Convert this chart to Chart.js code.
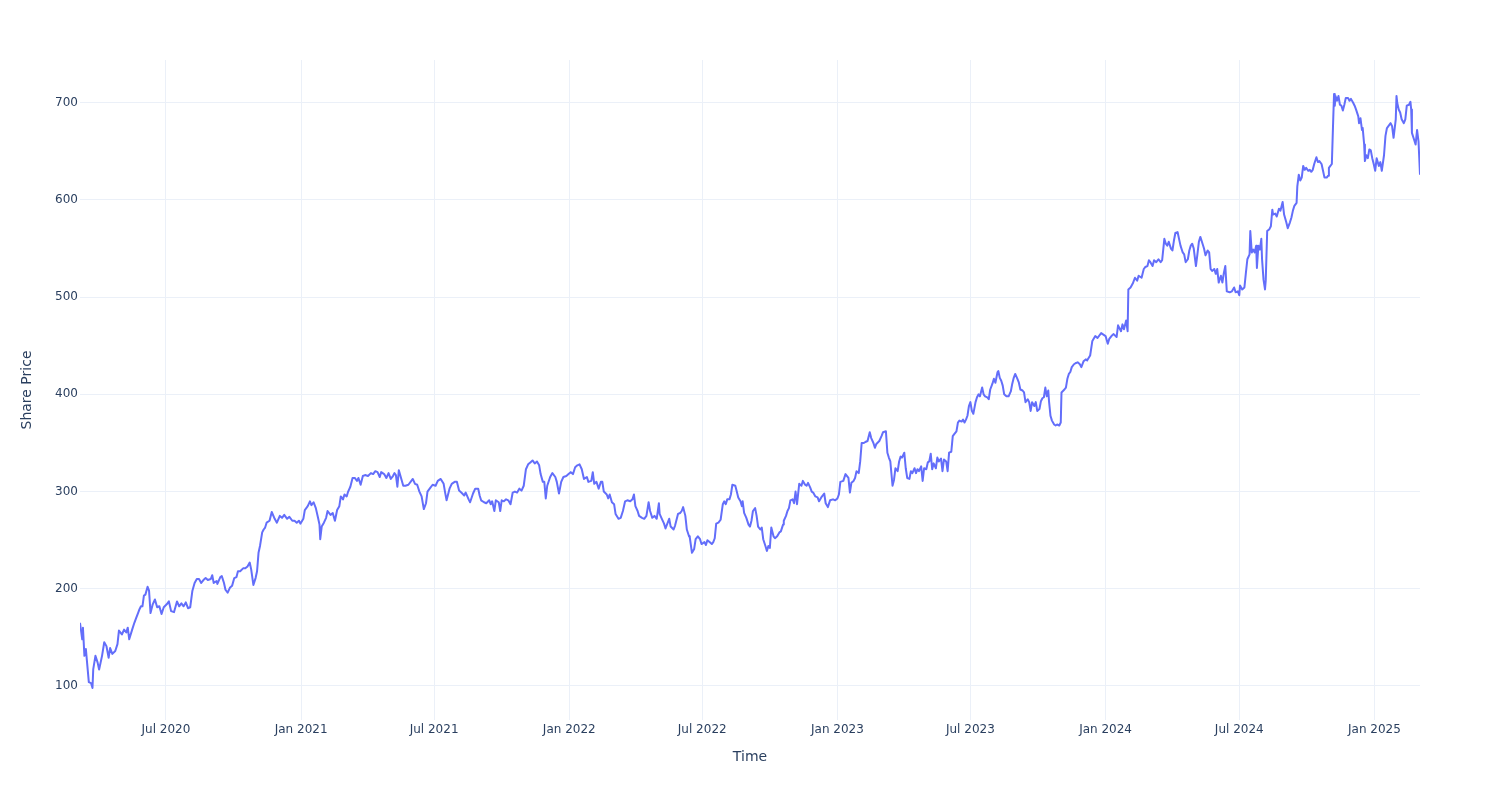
<!DOCTYPE html>
<html><head><meta charset="utf-8">
<script src="https://cdn.jsdelivr.net/npm/chart.js@4.4.1/dist/chart.umd.min.js"></script>
<style>html,body{margin:0;padding:0;background:#fff;}#wrap{width:1500px;height:800px;position:relative;}</style>
</head><body><div id="wrap"><canvas id="c" width="1500" height="800"></canvas></div>
<script>
const prices2020 = [["2020-03-06",165],["2020-03-09",148],["2020-03-10",160],["2020-03-12",131],["2020-03-14",138],["2020-03-16",121],["2020-03-18",104],["2020-03-21",103],["2020-03-23",98],["2020-03-24",117],["2020-03-27",131],["2020-03-30",124],["2020-04-01",117],["2020-04-05",131],["2020-04-08",145],["2020-04-11",141],["2020-04-14",129],["2020-04-16",139],["2020-04-19",133],["2020-04-23",136],["2020-04-26",143],["2020-04-28",157],["2020-05-02",153],["2020-05-05",158],["2020-05-08",155],["2020-05-10",160],["2020-05-12",148],["2020-05-16",158],["2020-05-19",165],["2020-05-21",169],["2020-05-24",175],["2020-05-26",179],["2020-05-28",182],["2020-05-30",182],["2020-06-01",193],["2020-06-03",194],["2020-06-06",202],["2020-06-08",198],["2020-06-10",175],["2020-06-13",184],["2020-06-16",189],["2020-06-19",181],["2020-06-22",182],["2020-06-25",174],["2020-06-28",181],["2020-07-02",184],["2020-07-05",187],["2020-07-08",177],["2020-07-12",176],["2020-07-16",187],["2020-07-19",182],["2020-07-22",185],["2020-07-25",182],["2020-07-28",186],["2020-07-31",180],["2020-08-03",181],["2020-08-06",198],["2020-08-09",206],["2020-08-12",210],["2020-08-15",210],["2020-08-18",206],["2020-08-21",209],["2020-08-24",211],["2020-08-27",209],["2020-08-31",210],["2020-09-02",214],["2020-09-04",206],["2020-09-08",208],["2020-09-09",205],["2020-09-13",212],["2020-09-15",213],["2020-09-18",206],["2020-09-20",199],["2020-09-23",196],["2020-09-26",201],["2020-09-29",203],["2020-10-02",211],["2020-10-05",212],["2020-10-07",218],["2020-10-10",218],["2020-10-14",221],["2020-10-17",221],["2020-10-20",223],["2020-10-23",227],["2020-10-25",220],["2020-10-28",204],["2020-10-31",211],["2020-11-02",218],["2020-11-04",237],["2020-11-06",244],["2020-11-09",258],["2020-11-11",261],["2020-11-13",263],["2020-11-15",268],["2020-11-19",270],["2020-11-22",279],["2020-11-26",272],["2020-11-29",268],["2020-12-03",275],["2020-12-06",273],["2020-12-09",276],["2020-12-13",272],["2020-12-16",274],["2020-12-20",270],["2020-12-23",270],["2020-12-26",268],["2020-12-29",270],["2020-12-31",267]];
const prices2021 = [["2021-01-04",272],["2021-01-06",281],["2021-01-10",285],["2021-01-13",290],["2021-01-15",286],["2021-01-18",289],["2021-01-21",283],["2021-01-24",273],["2021-01-26",266],["2021-01-27",251],["2021-01-29",264],["2021-02-01",268],["2021-02-04",273],["2021-02-06",280],["2021-02-10",276],["2021-02-13",278],["2021-02-16",270],["2021-02-19",281],["2021-02-22",285],["2021-02-24",295],["2021-02-27",292],["2021-03-01",297],["2021-03-04",295],["2021-03-06",300],["2021-03-09",305],["2021-03-12",314],["2021-03-15",314],["2021-03-18",311],["2021-03-20",314],["2021-03-23",307],["2021-03-26",316],["2021-03-29",317],["2021-04-02",316],["2021-04-06",319],["2021-04-09",318],["2021-04-12",321],["2021-04-15",320],["2021-04-18",315],["2021-04-20",320],["2021-04-24",318],["2021-04-27",314],["2021-04-30",319],["2021-05-03",313],["2021-05-06",316],["2021-05-08",319],["2021-05-10",317],["2021-05-12",305],["2021-05-14",322],["2021-05-17",314],["2021-05-20",306],["2021-05-23",306],["2021-05-27",307],["2021-05-31",311],["2021-06-02",313],["2021-06-05",308],["2021-06-08",307],["2021-06-11",300],["2021-06-14",295],["2021-06-17",282],["2021-06-20",288],["2021-06-22",300],["2021-06-26",304],["2021-06-29",307],["2021-07-03",306],["2021-07-06",311],["2021-07-10",313],["2021-07-14",308],["2021-07-16",299],["2021-07-18",291],["2021-07-22",303],["2021-07-25",308],["2021-07-29",310],["2021-08-01",310],["2021-08-04",301],["2021-08-07",299],["2021-08-11",296],["2021-08-13",299],["2021-08-17",292],["2021-08-19",289],["2021-08-23",298],["2021-08-26",303],["2021-08-30",303],["2021-09-01",296],["2021-09-03",291],["2021-09-07",289],["2021-09-10",288],["2021-09-14",291],["2021-09-16",287],["2021-09-18",290],["2021-09-21",280],["2021-09-23",291],["2021-09-27",289],["2021-09-29",280],["2021-10-01",291],["2021-10-04",290],["2021-10-07",292],["2021-10-10",291],["2021-10-13",287],["2021-10-16",299],["2021-10-19",300],["2021-10-22",299],["2021-10-25",303],["2021-10-28",301],["2021-10-31",306],["2021-11-03",323],["2021-11-06",328],["2021-11-09",330],["2021-11-12",332],["2021-11-15",329],["2021-11-18",331],["2021-11-21",327],["2021-11-23",318],["2021-11-26",310],["2021-11-28",310],["2021-11-30",293],["2021-12-02",306],["2021-12-06",315],["2021-12-09",319],["2021-12-13",315],["2021-12-15",310],["2021-12-18",298],["2021-12-21",310],["2021-12-24",315],["2021-12-28",316],["2021-12-31",318]];
const prices2022 = [["2022-01-03",320],["2022-01-06",318],["2022-01-09",325],["2022-01-12",327],["2022-01-15",328],["2022-01-18",323],["2022-01-21",313],["2022-01-25",315],["2022-01-27",310],["2022-01-31",311],["2022-02-02",320],["2022-02-04",308],["2022-02-07",310],["2022-02-10",303],["2022-02-13",310],["2022-02-15",310],["2022-02-17",300],["2022-02-21",297],["2022-02-23",293],["2022-02-25",297],["2022-02-28",289],["2022-03-03",287],["2022-03-05",277],["2022-03-09",272],["2022-03-12",273],["2022-03-15",280],["2022-03-18",290],["2022-03-21",291],["2022-03-25",290],["2022-03-28",292],["2022-03-30",297],["2022-04-01",285],["2022-04-04",280],["2022-04-06",275],["2022-04-10",273],["2022-04-13",272],["2022-04-16",275],["2022-04-19",289],["2022-04-21",280],["2022-04-24",273],["2022-04-27",275],["2022-04-30",272],["2022-05-03",288],["2022-05-04",277],["2022-05-07",272],["2022-05-10",267],["2022-05-12",262],["2022-05-15",268],["2022-05-17",272],["2022-05-19",264],["2022-05-23",261],["2022-05-25",265],["2022-05-29",277],["2022-06-01",278],["2022-06-03",280],["2022-06-05",284],["2022-06-08",275],["2022-06-10",261],["2022-06-13",254],["2022-06-14",253],["2022-06-17",237],["2022-06-20",241],["2022-06-22",251],["2022-06-25",254],["2022-06-28",251],["2022-06-30",246],["2022-07-04",248],["2022-07-06",245],["2022-07-08",250],["2022-07-11",248],["2022-07-14",246],["2022-07-16",248],["2022-07-18",252],["2022-07-20",267],["2022-07-23",268],["2022-07-26",271],["2022-07-29",287],["2022-07-31",290],["2022-08-02",287],["2022-08-04",292],["2022-08-07",292],["2022-08-09",297],["2022-08-11",307],["2022-08-15",306],["2022-08-17",300],["2022-08-19",294],["2022-08-22",290],["2022-08-24",285],["2022-08-25",290],["2022-08-27",278],["2022-08-30",273],["2022-09-02",266],["2022-09-04",264],["2022-09-06",270],["2022-09-08",280],["2022-09-11",283],["2022-09-13",275],["2022-09-15",264],["2022-09-18",261],["2022-09-20",263],["2022-09-22",251],["2022-09-25",244],["2022-09-27",239],["2022-09-29",244],["2022-10-01",242],["2022-10-03",263],["2022-10-06",254],["2022-10-08",252],["2022-10-11",254],["2022-10-14",258],["2022-10-16",259],["2022-10-19",266],["2022-10-20",270],["2022-10-23",275],["2022-10-25",280],["2022-10-27",283],["2022-10-29",291],["2022-11-01",292],["2022-11-03",288],["2022-11-05",300],["2022-11-07",287],["2022-11-10",308],["2022-11-13",306],["2022-11-15",311],["2022-11-18",307],["2022-11-20",306],["2022-11-22",309],["2022-11-25",304],["2022-11-27",300],["2022-11-29",299],["2022-12-02",295],["2022-12-05",294],["2022-12-07",290],["2022-12-10",294],["2022-12-14",298],["2022-12-16",288],["2022-12-19",284],["2022-12-22",291],["2022-12-26",292],["2022-12-29",291]];
const prices2023 = [["2023-01-01",293],["2023-01-03",297],["2023-01-05",310],["2023-01-09",311],["2023-01-12",318],["2023-01-16",314],["2023-01-18",299],["2023-01-20",309],["2023-01-23",311],["2023-01-25",314],["2023-01-27",321],["2023-01-30",319],["2023-02-01",331],["2023-02-03",350],["2023-02-06",350],["2023-02-08",351],["2023-02-11",352],["2023-02-14",361],["2023-02-16",355],["2023-02-19",350],["2023-02-21",345],["2023-02-23",349],["2023-02-27",352],["2023-03-02",357],["2023-03-04",361],["2023-03-08",362],["2023-03-10",340],["2023-03-12",335],["2023-03-14",331],["2023-03-17",306],["2023-03-19",312],["2023-03-21",324],["2023-03-24",321],["2023-03-26",331],["2023-03-28",336],["2023-03-30",335],["2023-04-02",340],["2023-04-04",324],["2023-04-06",314],["2023-04-09",313],["2023-04-11",321],["2023-04-13",319],["2023-04-16",324],["2023-04-18",319],["2023-04-20",323],["2023-04-22",321],["2023-04-25",326],["2023-04-27",311],["2023-04-29",324],["2023-05-02",323],["2023-05-04",330],["2023-05-06",331],["2023-05-08",339],["2023-05-10",323],["2023-05-12",329],["2023-05-15",324],["2023-05-17",335],["2023-05-19",331],["2023-05-22",334],["2023-05-24",321],["2023-05-26",333],["2023-05-29",331],["2023-05-31",321],["2023-06-02",340],["2023-06-05",341],["2023-06-07",357],["2023-06-09",359],["2023-06-12",362],["2023-06-14",371],["2023-06-16",373],["2023-06-19",372],["2023-06-21",374],["2023-06-23",371],["2023-06-25",374],["2023-06-27",378],["2023-06-29",388],["2023-07-01",392],["2023-07-03",383],["2023-07-05",380],["2023-07-08",392],["2023-07-10",397],["2023-07-12",400],["2023-07-14",398],["2023-07-17",407],["2023-07-19",400],["2023-07-21",398],["2023-07-24",397],["2023-07-26",395],["2023-07-28",405],["2023-07-31",411],["2023-08-02",416],["2023-08-04",412],["2023-08-07",423],["2023-08-08",424],["2023-08-10",417],["2023-08-12",414],["2023-08-14",409],["2023-08-16",400],["2023-08-19",398],["2023-08-22",398],["2023-08-25",403],["2023-08-27",411],["2023-08-29",417],["2023-08-31",421],["2023-09-03",416],["2023-09-05",412],["2023-09-07",405],["2023-09-10",404],["2023-09-12",402],["2023-09-14",392],["2023-09-17",395],["2023-09-19",392],["2023-09-21",383],["2023-09-23",392],["2023-09-26",388],["2023-09-28",392],["2023-09-30",383],["2023-10-03",385],["2023-10-05",393],["2023-10-07",396],["2023-10-09",397],["2023-10-11",407],["2023-10-13",398],["2023-10-15",404],["2023-10-16",393],["2023-10-18",378],["2023-10-20",373],["2023-10-23",369],["2023-10-25",368],["2023-10-27",369],["2023-10-30",368],["2023-11-01",371],["2023-11-02",402],["2023-11-06",405],["2023-11-08",407],["2023-11-10",416],["2023-11-12",421],["2023-11-14",423],["2023-11-16",428],["2023-11-19",431],["2023-11-21",432],["2023-11-24",433],["2023-11-27",431],["2023-11-29",428],["2023-12-02",434],["2023-12-05",436],["2023-12-07",435],["2023-12-11",440],["2023-12-14",455],["2023-12-18",460],["2023-12-21",458],["2023-12-26",463],["2023-12-28",462]];
const prices2024 = [["2024-01-01",460],["2024-01-04",452],["2024-01-06",457],["2024-01-09",460],["2024-01-12",462],["2024-01-16",459],["2024-01-18",471],["2024-01-22",465],["2024-01-24",472],["2024-01-26",467],["2024-01-29",476],["2024-01-31",465],["2024-02-01",508],["2024-02-04",510],["2024-02-07",514],["2024-02-10",520],["2024-02-13",517],["2024-02-15",522],["2024-02-19",520],["2024-02-22",529],["2024-02-24",531],["2024-02-27",532],["2024-02-29",538],["2024-03-02",536],["2024-03-05",532],["2024-03-07",538],["2024-03-10",536],["2024-03-13",539],["2024-03-16",536],["2024-03-18",538],["2024-03-21",560],["2024-03-23",555],["2024-03-25",553],["2024-03-27",557],["2024-03-30",550],["2024-04-01",548],["2024-04-03",558],["2024-04-05",566],["2024-04-08",567],["2024-04-10",560],["2024-04-12",553],["2024-04-15",546],["2024-04-17",544],["2024-04-19",536],["2024-04-22",539],["2024-04-24",548],["2024-04-26",553],["2024-04-28",555],["2024-04-30",550],["2024-05-03",532],["2024-05-05",544],["2024-05-07",557],["2024-05-09",562],["2024-05-12",555],["2024-05-14",550],["2024-05-16",543],["2024-05-19",548],["2024-05-21",546],["2024-05-23",529],["2024-05-25",527],["2024-05-28",529],["2024-05-30",524],["2024-06-01",529],["2024-06-03",515],["2024-06-06",522],["2024-06-08",515],["2024-06-10",525],["2024-06-12",532],["2024-06-14",506],["2024-06-18",505],["2024-06-21",506],["2024-06-24",510],["2024-06-26",505],["2024-06-29",506],["2024-07-01",502],["2024-07-02",512],["2024-07-05",508],["2024-07-08",510],["2024-07-10",525],["2024-07-12",539],["2024-07-15",544],["2024-07-16",568],["2024-07-18",546],["2024-07-20",549],["2024-07-22",546],["2024-07-24",553],["2024-07-25",530],["2024-07-27",553],["2024-07-29",549],["2024-07-31",560],["2024-08-01",539],["2024-08-03",518],["2024-08-05",508],["2024-08-06",517],["2024-08-08",568],["2024-08-11",570],["2024-08-13",573],["2024-08-15",590],["2024-08-16",585],["2024-08-19",586],["2024-08-21",583],["2024-08-24",591],["2024-08-26",589],["2024-08-29",598],["2024-08-31",585],["2024-09-03",577],["2024-09-05",571],["2024-09-08",577],["2024-09-10",582],["2024-09-12",589],["2024-09-14",594],["2024-09-17",597],["2024-09-18",614],["2024-09-20",626],["2024-09-22",620],["2024-09-24",623],["2024-09-26",635],["2024-09-28",631],["2024-09-30",633],["2024-10-03",630],["2024-10-05",631],["2024-10-07",629],["2024-10-09",631],["2024-10-11",637],["2024-10-14",644],["2024-10-16",639],["2024-10-18",640],["2024-10-21",637],["2024-10-23",630],["2024-10-25",623],["2024-10-28",623],["2024-10-30",625],["2024-10-31",633],["2024-11-02",635],["2024-11-04",637],["2024-11-06",686],["2024-11-07",709],["2024-11-08",697],["2024-11-09",707],["2024-11-11",702],["2024-11-13",707],["2024-11-15",698],["2024-11-17",697],["2024-11-19",692],["2024-11-21",698],["2024-11-23",705],["2024-11-26",705],["2024-11-28",702],["2024-11-30",704],["2024-12-03",700],["2024-12-05",697],["2024-12-07",693],["2024-12-10",686],["2024-12-11",679],["2024-12-13",684],["2024-12-15",672],["2024-12-16",674],["2024-12-18",657],["2024-12-19",640],["2024-12-21",646],["2024-12-23",643],["2024-12-25",652],["2024-12-27",651],["2024-12-29",643],["2024-12-31",637]];
const prices2025 = [["2025-01-02",630],["2025-01-04",643],["2025-01-07",635],["2025-01-09",639],["2025-01-11",630],["2025-01-14",646],["2025-01-16",666],["2025-01-18",674],["2025-01-21",677],["2025-01-23",679],["2025-01-25",676],["2025-01-27",664],["2025-01-30",683],["2025-01-31",707],["2025-02-01",700],["2025-02-03",693],["2025-02-05",690],["2025-02-07",683],["2025-02-10",679],["2025-02-12",683],["2025-02-14",697],["2025-02-17",698],["2025-02-19",701],["2025-02-20",693],["2025-02-21",669],["2025-02-24",662],["2025-02-26",657],["2025-02-28",672],["2025-03-02",660],["2025-03-04",626]];

const xTickDates = ["2020-07-01","2021-01-01","2021-07-01","2022-01-01","2022-07-01","2023-01-01","2023-07-01","2024-01-01","2024-07-01","2025-01-01"];
const xTickLabels = ["Jul 2020","Jan 2021","Jul 2021","Jan 2022","Jul 2022","Jan 2023","Jul 2023","Jan 2024","Jul 2024","Jan 2025"];
const yTickValues = [100,200,300,400,500,600,700];
const yRange = [65, 744];
const xTitle = "Time";
const yTitle = "Share Price";

const toMs = s => Date.parse(s + "T00:00:00Z");
const series = [].concat(prices2020, prices2021, prices2022, prices2023, prices2024, prices2025);
const points = series.map(p => ({x: toMs(p[0]), y: p[1]}));

const FONT = "DejaVu Sans";
const INK = "#2a3f5f";
const GRID = "#ebf0f8";

new Chart(document.getElementById("c"), {
  type: "line",
  data: {datasets: [{data: points, borderColor: "#636efa", borderWidth: 2, pointRadius: 0, tension: 0, fill: false, borderJoinStyle: "round"}]},
  options: {
    responsive: false, animation: false, devicePixelRatio: 1,
    layout: {padding: {left: 0, right: 80, top: 60, bottom: 0}},
    plugins: {legend: {display: false}, tooltip: {enabled: false}},
    events: [],
    scales: {
      x: {
        type: "linear",
        min: points[0].x, max: points[points.length - 1].x,
        grid: {color: GRID, lineWidth: 1, drawTicks: false},
        border: {display: false},
        ticks: {font: {family: FONT, size: 12}, color: INK, padding: 3, maxRotation: 0, autoSkip: false,
          callback: (v, i) => xTickLabels[i]},
        afterBuildTicks: s => { s.ticks = xTickDates.map(d => ({value: toMs(d)})); },
        afterFit: s => { s.height = 80; },
        title: {display: true, text: xTitle, font: {family: FONT, size: 14}, color: INK, padding: {top: 0, bottom: 34}}
      },
      y: {
        type: "linear",
        min: yRange[0], max: yRange[1],
        grid: {color: GRID, lineWidth: 1, drawTicks: false},
        border: {display: false},
        ticks: {font: {family: FONT, size: 12}, color: INK, padding: 2, includeBounds: false},
        afterBuildTicks: s => { s.ticks = yTickValues.map(v => ({value: v})); },
        afterFit: s => { s.width = 80; },
        title: {display: true, text: yTitle, font: {family: FONT, size: 14}, color: INK, padding: {top: 19, bottom: 0}}
      }
    }
  }
});
</script>
</body></html>
